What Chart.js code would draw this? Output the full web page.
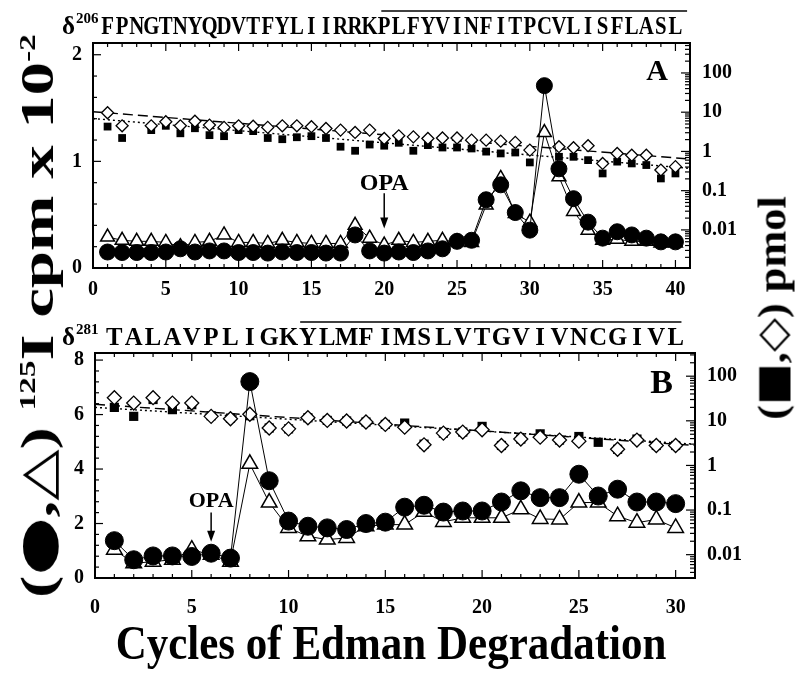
<!DOCTYPE html>
<html>
<head>
<meta charset="utf-8">
<script src="https://cdn.jsdelivr.net/npm/chart.js@4.4.1/dist/chart.umd.min.js"></script>
<style>
  html, body { margin: 0; padding: 0; background: #fff; }
  #wrap { position: relative; width: 800px; height: 673px; overflow: hidden;
          font-family: "Liberation Serif", "Times New Roman", serif; font-weight: bold; color: #000; }
  #wrap canvas { position: absolute; left: 0; }
  .ttl { position: absolute; white-space: nowrap; line-height: 1; }
  .sy { font-family: "DejaVu Sans", sans-serif; }
  .sup { font-size: 0.5em; position: relative; top: -0.75em; }
  #ylab { left: 37px; top: 316px; font-size: 47px; transform: translate(-50%, -50%) rotate(-90deg) scale(1.42, 1); }
  #y2lab { left: 772px; top: 308px; font-size: 41px; transform: translate(-50%, -50%) rotate(-90deg) scale(1.08, 1); }
  #xlab { left: 391px; top: 642px; font-size: 43px; transform: translate(-50%, -50%) scaleY(1.15); }
</style>
</head>
<body>
<div id="wrap">
  <canvas id="chartA" width="800" height="300" style="top:0"></canvas>
  <canvas id="chartB" width="800" height="330" style="top:300px"></canvas>
  <div class="ttl" id="ylab">(<span class="sy">●</span>,<span class="sy">△</span>) <span class="sup">125</span>I cpm x 10<span class="sup">-2</span></div>
  <div class="ttl" id="y2lab">(<span class="sy">■</span>,<span class="sy">◇</span>) pmol</div>
  <div class="ttl" id="xlab">Cycles of Edman Degradation</div>
</div>
<script>
// ---- panel A data (cycles 1..40) ----
const cyclesA = [1,2,3,4,5,6,7,8,9,10,11,12,13,14,15,16,17,18,19,20,21,22,23,24,25,26,27,28,29,30,31,32,33,34,35,36,37,38,39,40];
const circlesA = [0.15,0.145,0.145,0.145,0.15,0.18,0.15,0.16,0.16,0.145,0.145,0.14,0.15,0.145,0.145,0.14,0.14,0.31,0.16,0.14,
                  0.15,0.145,0.16,0.18,0.25,0.26,0.64,0.78,0.52,0.355,1.71,0.93,0.65,0.43,0.28,0.34,0.31,0.28,0.245,0.245];
const trianglesA = [0.29,0.26,0.25,0.25,0.24,0.2,0.24,0.25,0.31,0.24,0.24,0.23,0.26,0.24,0.23,0.23,0.23,0.40,0.28,0.215,
                    0.26,0.24,0.25,0.26,0.245,0.24,0.59,0.84,0.51,0.43,1.27,0.855,0.53,0.355,0.26,0.27,0.25,0.25,0.235,0.235];
const squaresA = [4.3,2.2,null,3.5,4.5,2.9,3.9,2.6,2.45,3.5,3.3,2.2,2.05,2.3,2.45,2.2,1.32,1.04,1.5,1.4,
                  1.66,1.04,1.45,1.26,1.26,1.19,0.99,0.89,0.94,0.525,null,0.73,0.73,0.6,0.275,0.55,0.495,0.45,0.205,0.275];
const diamondsA = [9.7,4.5,null,4.5,5.7,4.5,5.9,4.7,4.1,4.5,4.4,4.1,4.5,4.5,4.27,3.85,3.5,3.05,3.5,2.14,
                   2.5,2.35,2.14,2.2,2.2,1.94,1.94,1.83,1.7,1.08,null,1.32,1.24,1.4,0.495,0.89,0.8,0.8,0.335,0.41];
const fitXA = [0, 41];
const fitDashA = [10.3, 0.64];
const fitDotA = [6.9, 0.37];
const seqA = 'FPNGTNYQDVTFYLIIRRKPLFYVINFITPCVLISFLASL';
const xTicksA = [0,5,10,15,20,25,30,35,40];
const yTicksA = [0,1,2];

// ---- panel B data (cycles 1..30) ----
const cyclesB = [1,2,3,4,5,6,7,8,9,10,11,12,13,14,15,16,17,18,19,20,21,22,23,24,25,26,27,28,29,30];
const circlesB = [1.37,0.67,0.81,0.81,0.79,0.91,0.73,7.21,3.57,2.09,1.9,1.84,1.78,2.0,2.05,2.6,2.67,2.42,2.46,2.46,
                  2.79,3.2,2.95,2.95,3.81,3.01,3.26,2.79,2.79,2.73];
const trianglesB = [1.04,0.54,0.6,0.67,1.04,0.85,0.6,4.19,2.77,1.84,1.53,1.41,1.47,1.9,1.96,1.96,2.43,2.06,2.21,2.21,
                    2.21,2.52,2.17,2.15,2.77,2.77,2.27,2.03,2.15,1.84];
const squaresB = [20,12.6,30,17.8,23,13,11.5,13,6.9,6.6,11.7,10.2,9.9,9.4,8.3,8.9,3.0,5.3,5.6,7.5,
                  2.8,3.9,5.1,3.7,4.45,3.3,2.3,3.9,2.8,2.8];
const diamondsB = [33,25,33,25,25,12.6,11.1,14,6.9,6.6,11.7,10.2,9.9,9.4,8.3,7.2,2.9,5.3,5.6,6.3,
                   2.8,3.9,4.3,3.7,3.5,null,2.3,3.7,2.8,2.8];
const fitXB = [0, 31];
const fitDashB = [23.5, 2.8];
const fitDotB = [20, 3.0];
const seqB = 'TALAVPLIGKYLMFIMSLVTGVIVNCGIVL';
const xTicksB = [0,5,10,15,20,25,30];
const yTicksB = [0,2,4,6,8];

const logTicks = [0.01,0.1,1,10,100];
const SERIF = '"Liberation Serif", "Times New Roman", serif';

// inward ticks, frame, sequence line, panel letter, OPA arrow
const decor = {
  id: 'decor',
  afterDraw(chart, args, o) {
    const { ctx, chartArea: a } = chart;
    const x = chart.scales.x, y = chart.scales.y, y2 = chart.scales.y2;
    const seg = (x1, y1, x2, y2_) => { ctx.beginPath(); ctx.moveTo(x1, y1); ctx.lineTo(x2, y2_); ctx.stroke(); };
    ctx.save();
    ctx.strokeStyle = '#000';
    ctx.fillStyle = '#000';
    ctx.lineWidth = 1.2;
    for (let v = 0; v <= x.max; v++) {
      const px = x.getPixelForValue(v);
      const len = v % 5 === 0 ? 8 : 4;
      seg(px, a.bottom, px, a.bottom - len);
      seg(px, a.top, px, a.top + len);
    }
    for (let i = 0; i * o.yMinor <= y.max + 1e-9; i++) {
      const v = i * o.yMinor;
      const py = y.getPixelForValue(v);
      const major = Math.abs(v / o.yMajor - Math.round(v / o.yMajor)) < 1e-6;
      seg(a.left, py, a.left + (major ? 8 : 4), py);
    }
    for (let d = -4; d <= 3; d++) {
      for (let k = 1; k <= 9; k++) {
        const v = k * Math.pow(10, d);
        if (v < y2.min || v > y2.max) continue;
        const py = y2.getPixelForValue(v);
        seg(a.right, py, a.right - (k === 1 ? 9 : 5), py);
      }
    }
    ctx.lineWidth = 2;
    ctx.strokeRect(a.left, a.top, a.right - a.left, a.bottom - a.top);

    // sequence above the panel
    ctx.font = 'bold ' + o.seqSize + 'px ' + SERIF;
    ctx.textAlign = 'center';
    ctx.textBaseline = 'alphabetic';
    o.seq.split('').forEach((ch, i) => {
      ctx.save();
      ctx.translate(x.getPixelForValue(i + 1), o.seqBase);
      ctx.scale(o.seqSx, 1);
      ctx.fillText(ch, 0, 0);
      ctx.restore();
    });
    ctx.textAlign = 'left';
    ctx.font = 'bold 25px ' + SERIF;
    ctx.fillText('δ', o.deltaX, o.seqBase);
    const dw = ctx.measureText('δ').width;
    ctx.font = 'bold 15px ' + SERIF;
    ctx.fillText(o.deltaNum, o.deltaX + dw + 1, o.seqBase - 11);
    ctx.lineWidth = 1.5;
    seg(x.getPixelForValue(o.over[0]), o.overY, x.getPixelForValue(o.over[1]), o.overY);

    // panel letter
    ctx.font = 'bold ' + o.letterSize + 'px ' + SERIF;
    ctx.textAlign = 'right';
    ctx.fillText(o.letter, a.right - 22, a.top + o.letterDy);

    // OPA marker
    const ox = x.getPixelForValue(o.opa.cycle);
    ctx.font = 'bold ' + o.opa.size + 'px ' + SERIF;
    ctx.textAlign = 'center';
    ctx.fillText('OPA', ox, y.getPixelForValue(o.opa.text));
    const t0 = y.getPixelForValue(o.opa.from), t1 = y.getPixelForValue(o.opa.to);
    ctx.lineWidth = 1.5;
    seg(ox, t0, ox, t1 - 6);
    ctx.beginPath();
    ctx.moveTo(ox, t1); ctx.lineTo(ox - 4, t1 - 11); ctx.lineTo(ox + 4, t1 - 11); ctx.closePath(); ctx.fill();
    ctx.restore();
  }
};

function pts(xs, ys) { return xs.map((c, i) => ({ x: c, y: ys[i] })); }

function panel(id, p) {
  const tickFont = { family: SERIF, size: 20, weight: 'bold' };
  return new Chart(document.getElementById(id), {
    type: 'line',
    data: {
      datasets: [
        { data: pts(p.cycles, p.circles), yAxisID: 'y', order: 0, borderColor: '#000', borderWidth: 1,
          pointStyle: 'circle', pointRadius: p.r, pointBackgroundColor: '#000', pointBorderColor: '#000' },
        { data: pts(p.cycles, p.triangles), yAxisID: 'y', order: 1, borderColor: '#000', borderWidth: 1,
          pointStyle: 'triangle', pointRadius: p.r, pointBackgroundColor: '#fff', pointBorderColor: '#000', pointBorderWidth: 1.5 },
        { data: pts(p.cycles, p.diamonds), yAxisID: 'y2', order: 2, showLine: false,
          pointStyle: 'rectRot', pointRadius: p.r - 2, pointBackgroundColor: '#fff', pointBorderColor: '#000', pointBorderWidth: 1.3 },
        { data: pts(p.cycles, p.squares), yAxisID: 'y2', order: 3, showLine: false,
          pointStyle: 'rect', pointRadius: p.r - 2.5, pointBackgroundColor: '#000', pointBorderColor: '#000', pointBorderWidth: 0 },
        { data: pts(p.fitX, p.fitDash), yAxisID: 'y2', order: 4, borderColor: '#000', borderWidth: 1.4,
          borderDash: [10, 5], pointRadius: 0 },
        { data: pts(p.fitX, p.fitDot), yAxisID: 'y2', order: 5, borderColor: '#000', borderWidth: 1.4,
          borderDash: [2, 3], pointRadius: 0 }
      ]
    },
    options: {
      responsive: false,
      animation: false,
      layout: { padding: { top: p.top, left: 0, right: 0, bottom: 0 } },
      plugins: { legend: { display: false }, tooltip: { enabled: false }, decor: p.decor },
      scales: {
        x: { type: 'linear', min: 0, max: p.xMax,
             afterFit: s => { s.height = p.xH; },
             afterBuildTicks: s => { s.ticks = p.xTicks.map(v => ({ value: v })); },
             grid: { display: false, drawTicks: false }, border: { display: false },
             ticks: { color: '#000', font: tickFont, padding: p.xPad, maxRotation: 0 } },
        y: { type: 'linear', position: 'left', min: 0, max: p.yMax,
             afterFit: s => { s.width = p.left; },
             afterBuildTicks: s => { s.ticks = p.yTicks.map(v => ({ value: v })); },
             grid: { display: false, drawTicks: false }, border: { display: false },
             ticks: { color: '#000', font: tickFont, padding: 11 } },
        y2: { type: 'logarithmic', position: 'right', min: p.logMin, max: p.logMax,
              afterFit: s => { s.width = 800 - p.right; },
              afterBuildTicks: s => { s.ticks = logTicks.map(v => ({ value: v })); },
              grid: { display: false, drawTicks: false }, border: { display: false },
              ticks: { color: '#000', font: tickFont, padding: 12, callback: v => String(v) } }
      }
    },
    plugins: [decor]
  });
}

panel('chartA', {
  cycles: cyclesA, circles: circlesA, triangles: trianglesA, squares: squaresA, diamonds: diamondsA,
  fitX: fitXA, fitDash: fitDashA, fitDot: fitDotA, xTicks: xTicksA, yTicks: yTicksA,
  r: 8, top: 43, xH: 32, left: 93, right: 690, xMax: 41, yMax: 2.11, logMin: 0.00107, logMax: 580, xPad: 10,
  decor: { yMinor: 0.2, yMajor: 1, seq: seqA, seqSize: 26, seqSx: 0.8, seqBase: 34, deltaX: 62, deltaNum: '206',
           over: [19.8, 40.8], overY: 11, letter: 'A', letterSize: 30, letterDy: 37,
           opa: { cycle: 20, size: 24, text: 0.73, from: 0.70, to: 0.37 } }
});

panel('chartB', {
  cycles: cyclesB, circles: circlesB, triangles: trianglesB, squares: squaresB, diamonds: diamondsB,
  fitX: fitXB, fitDash: fitDashB, fitDot: fitDotB, xTicks: xTicksB, yTicks: yTicksB,
  r: 9, top: 53, xH: 52, left: 95, right: 695, xMax: 31, yMax: 8.26, logMin: 0.003, logMax: 331, xPad: 18,
  decor: { yMinor: 0.4, yMajor: 2, seq: seqB, seqSize: 26, seqSx: 0.95, seqBase: 45, deltaX: 62, deltaNum: '281',
           over: [10.6, 30.3], overY: 22, letter: 'B', letterSize: 34, letterDy: 40,
           opa: { cycle: 6, size: 22, text: 2.6, from: 2.4, to: 1.33 } }
});
</script>
</body>
</html>
